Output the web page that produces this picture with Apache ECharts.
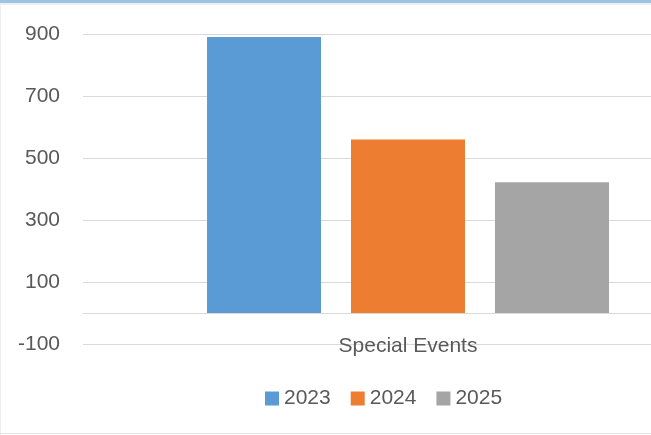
<!DOCTYPE html>
<html>
<head>
<meta charset="utf-8">
<script src="https://cdn.jsdelivr.net/npm/echarts@6/dist/echarts.min.js"></script>
<style>
html,body{margin:0;padding:0;background:#fff;overflow:hidden;width:651px;height:435px;}
#c{width:760px;height:435px;}
</style>
</head>
<body>
<div id="c"></div>
<script>
const categories = ['Special Events'];
const seriesNames = ['2023', '2024', '2025'];
const values2023 = [890];
const values2024 = [560];
const values2025 = [422];
const yTicks = [-100, 100, 300, 500, 700, 900];
const colors = ['#5B9BD5', '#ED7D31', '#A5A5A5'];

const font = '"Liberation Sans", Arial, sans-serif';
const chart = echarts.init(document.getElementById('c'), null, {renderer: 'canvas'});
const seriesData = [values2023, values2024, values2025];
chart.setOption({
  animation: false,
  backgroundColor: '#fff',
  textStyle: {fontFamily: font},
  graphic: [
    {type: 'rect', shape: {x: 0, y: 0, width: 760, height: 3}, style: {fill: '#9DC3E6'}, silent: true},
    {type: 'line', shape: {x1: 0, y1: 4, x2: 760, y2: 4}, style: {stroke: '#e0e0e0', lineWidth: 1}, silent: true},
    {type: 'line', shape: {x1: 0.5, y1: 4, x2: 0.5, y2: 435}, style: {stroke: '#eeeeee', lineWidth: 1}, silent: true},
    {type: 'line', shape: {x1: 0, y1: 433.5, x2: 760, y2: 433.5}, style: {stroke: '#e3e3e3', lineWidth: 1}, silent: true}
  ],
  legend: {
    data: seriesNames,
    left: 260,
    top: 383,
    itemWidth: 14,
    itemHeight: 14,
    itemGap: 20,
    icon: 'rect',
    textStyle: {color: '#595959', fontSize: 21, fontFamily: font}
  },
  grid: {left: 83, top: 34, width: 650, height: 310, containLabel: false},
  xAxis: {
    type: 'category',
    data: categories,
    axisLine: {show: true, onZero: true, lineStyle: {color: '#d9d9d9', width: 1}},
    axisTick: {show: false},
    axisLabel: {color: '#595959', fontSize: 21, margin: -8, fontFamily: font},
    splitLine: {show: false}
  },
  yAxis: {
    type: 'value',
    min: -100,
    max: 900,
    axisLine: {show: false},
    axisTick: {show: false, customValues: yTicks},
    axisLabel: {color: '#595959', fontSize: 21, margin: 23, fontFamily: font, customValues: yTicks},
    splitLine: {show: true, lineStyle: {color: '#d9d9d9', width: 1}}
  },
  series: seriesNames.map((n, i) => ({
    name: n,
    type: 'bar',
    data: seriesData[i],
    barWidth: 114,
    barGap: '26.3%',
    itemStyle: {color: colors[i]}
  }))
});
</script>
</body>
</html>
